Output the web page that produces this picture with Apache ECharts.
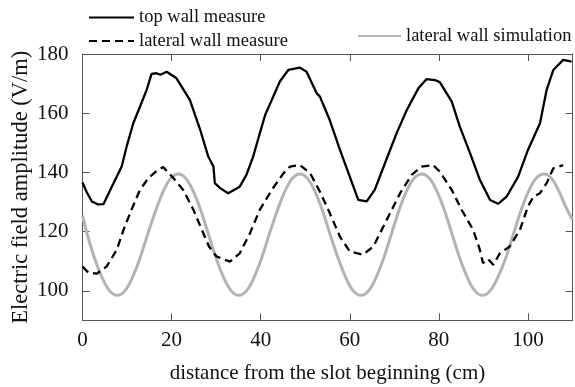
<!DOCTYPE html>
<html>
<head>
<meta charset="utf-8">
<script src="https://cdn.jsdelivr.net/npm/echarts@6/dist/echarts.min.js"></script>
<style>
  html, body { margin: 0; padding: 0; background: #fff; }
  #chart { width: 575px; height: 387px; }
</style>
</head>
<body>
<div id="chart"></div>
<script>
// Field amplitude along the slot: [distance (cm), amplitude (V/m)]
const topWallMeasure = [
  [0,136.6],[0.9,133.5],[2.1,130.2],[3.5,129.2],[4.7,129.3],[6.2,134],[7.7,138.6],[8.8,142],
  [9.9,148.7],[11.4,156.6],[12.9,162.2],[14.4,167.9],[15.5,173.3],[16.6,173.5],[17.5,173],
  [18.9,174],[21.1,171.8],[24.1,164.5],[26.4,154.5],[28.2,145.5],[29.4,142],[29.7,136.4],
  [30.9,134.7],[32.7,133],[35.3,135.2],[36.8,139.2],[38.3,145.3],[39.8,153.2],[41,159.4],
  [42.5,164.5],[44.3,170.7],[46.2,174.6],[48.8,175.4],[50.3,174],[52.6,166.7],[53.3,165.6],
  [55.5,157.7],[57.8,147.6],[60,138.6],[61.9,130.7],[63.8,130.2],[65.6,134.1],[67.9,143.1],
  [70.5,153.2],[72.8,161.1],[75.4,168.4],[77.2,171.5],[79.1,171.2],[80.2,170.5],[82.9,163.9],
  [84.7,155.5],[87,146.5],[89.2,137.5],[91.5,130.7],[93.3,129.4],[95.2,131.8],[97.8,138.6],
  [100,147.6],[102.7,156.6],[104.2,167.9],[105.7,174.6],[107.9,178],[109.8,177.4]
];

const lateralWallMeasure = [
  [0,108.2],[1.3,106.2],[3.2,105.8],[5.4,108.2],[7.7,113.9],[9.2,120.6],[11,127.4],[12.9,134.1],
  [14.8,138.1],[16.7,140.6],[18.1,141.8],[20.4,138.1],[22.6,134.1],[24.9,127.4],[26.8,120.6],
  [28.4,115],[30.1,111.6],[33.1,109.9],[35.3,112.7],[37.6,119.5],[39.8,127.4],[42.5,134.1],
  [45.1,139.7],[46.6,142],[48.8,142.5],[51.1,139.7],[53.3,133.5],[55.3,127],[57.8,118.3],
  [60,113.3],[63,112.2],[65.3,115],[68.3,124],[71.3,133],[73.9,139.2],[76.1,142],[78.7,142.5],
  [80.2,140.3],[82.9,134.1],[85.1,127.4],[87.7,120.6],[89.2,113.9],[89.9,109.4],[91.1,110.7],
  [92.2,108.8],[93.7,112.7],[95.9,115],[98.2,120.6],[100,128.5],[101.2,131.8],[102.7,133],
  [104.2,136.4],[105.7,141.4],[107.9,142.5]
];

const lateralWallSimulation = [
  [0,125.5],[1,119.5],[2.7,111],[4.4,104.5],[6.1,100],[7.8,98.5],[9.5,100],[11.2,104.5],
  [12.9,111],[14.6,119],[16.4,127],[18.1,133.5],[19.8,138],[21.5,139.5],[23.2,138],[24.9,133.5],
  [26.6,127],[28.3,119],[30,111],[31.7,104.5],[33.4,100],[35.1,98.5],[36.8,100],[38.5,104.5],
  [40.2,111],[41.9,119],[43.7,127],[45.4,133.5],[47.1,138],[48.8,139.5],[50.5,138],[52.2,133.5],
  [53.9,127],[55.6,119],[57.4,111],[59.1,104.5],[60.8,100],[62.5,98.5],[64.2,100],[65.9,104.5],
  [67.6,111],[69.3,119],[71,127],[72.7,133.5],[74.4,138],[76.2,139.5],[77.9,138],[79.6,133.5],
  [81.3,127],[83,119],[84.7,111],[86.4,104.5],[88.1,100],[89.8,98.5],[91.5,100],[93.2,104.5],
  [95,111],[96.7,119],[98.4,127],[100.1,133.5],[101.8,138],[103.6,139.5],[105.3,138],
  [107,133.5],[108.6,128],[110,124]
];

const xTicks = [0, 20, 40, 60, 80, 100];
const yTicks = [100, 120, 140, 160, 180];

const FONT = '"Liberation Serif", "Times New Roman", serif';
const AXIS_COLOR = '#555';
const TEXT_COLOR = '#111';

const chart = echarts.init(document.getElementById('chart'), null, { renderer: 'canvas' });

// legend entries show only the line sample, no marker
const legendBase = {
  itemHeight: 14, itemGap: 4, padding: 0,
  itemStyle: { color: 'rgba(0,0,0,0)', borderColor: 'rgba(0,0,0,0)', borderWidth: 0 },
  textStyle: { fontFamily: FONT, fontSize: 18.5, color: TEXT_COLOR }
};

const frameAxis = {
  axisLine: { show: true, onZero: false, lineStyle: { color: AXIS_COLOR, width: 1 } },
  splitLine: { show: false }
};
const tickStyle = { show: true, inside: true, length: 7, lineStyle: { color: AXIS_COLOR, width: 1 } };

chart.setOption({
  animation: false,
  backgroundColor: '#fff',
  grid: {
    left: 82.5, right: 2.5, top: 54, bottom: 66.5,
    containLabel: false, outerBoundsMode: 'none'
  },
  legend: [
    Object.assign({}, legendBase, { data: ['top wall measure'], left: 88, top: 8, itemWidth: 45 }),
    Object.assign({}, legendBase, { data: ['lateral wall measure'], left: 88, top: 31.5, itemWidth: 45 }),
    Object.assign({}, legendBase, { data: ['lateral wall simulation'], left: 357, top: 26.5, itemWidth: 43 })
  ],
  xAxis: [
    Object.assign({}, frameAxis, {
      type: 'value', min: 0, max: 110, position: 'bottom',
      name: 'distance from the slot beginning (cm)', nameLocation: 'middle', nameGap: 42,
      nameTextStyle: { fontFamily: FONT, fontSize: 21, color: TEXT_COLOR },
      axisTick: Object.assign({ customValues: xTicks }, tickStyle),
      axisLabel: {
        customValues: xTicks,
        fontFamily: FONT, fontSize: 21, color: TEXT_COLOR, margin: 9
      }
    }),
    Object.assign({}, frameAxis, {
      type: 'value', min: 0, max: 110, position: 'top',
      axisTick: Object.assign({ customValues: xTicks }, tickStyle),
      axisLabel: { show: false }
    })
  ],
  yAxis: [
    Object.assign({}, frameAxis, {
      type: 'value', min: 90, max: 180, position: 'left',
      name: 'Electric field amplitude (V/m)', nameLocation: 'middle', nameGap: 50,
      nameMoveOverlap: false,
      nameTextStyle: { fontFamily: FONT, fontSize: 22.5, color: TEXT_COLOR },
      axisTick: Object.assign({ customValues: yTicks }, tickStyle),
      axisLabel: {
        customValues: yTicks,
        fontFamily: FONT, fontSize: 21, color: TEXT_COLOR, margin: 14
      }
    }),
    Object.assign({}, frameAxis, {
      type: 'value', min: 90, max: 180, position: 'right',
      axisTick: Object.assign({ customValues: yTicks }, tickStyle),
      axisLabel: { show: false }
    })
  ],
  series: [
    {
      name: 'top wall measure', type: 'line', data: topWallMeasure,
      xAxisIndex: 0, yAxisIndex: 0, symbol: 'none', smooth: false,
      lineStyle: { color: '#000', width: 2.3 }, itemStyle: { color: '#000' }, z: 3
    },
    {
      name: 'lateral wall measure', type: 'line', data: lateralWallMeasure,
      xAxisIndex: 0, yAxisIndex: 0, symbol: 'none', smooth: false,
      lineStyle: { color: '#000', width: 2.3, type: [8, 5] }, itemStyle: { color: '#000' }, z: 3
    },
    {
      name: 'lateral wall simulation', type: 'line', data: lateralWallSimulation,
      xAxisIndex: 0, yAxisIndex: 0, symbol: 'none', smooth: 0.35,
      lineStyle: { color: '#b3b3b3', width: 3 }, itemStyle: { color: '#b3b3b3' }, z: 2
    }
  ]
});
</script>
</body>
</html>
